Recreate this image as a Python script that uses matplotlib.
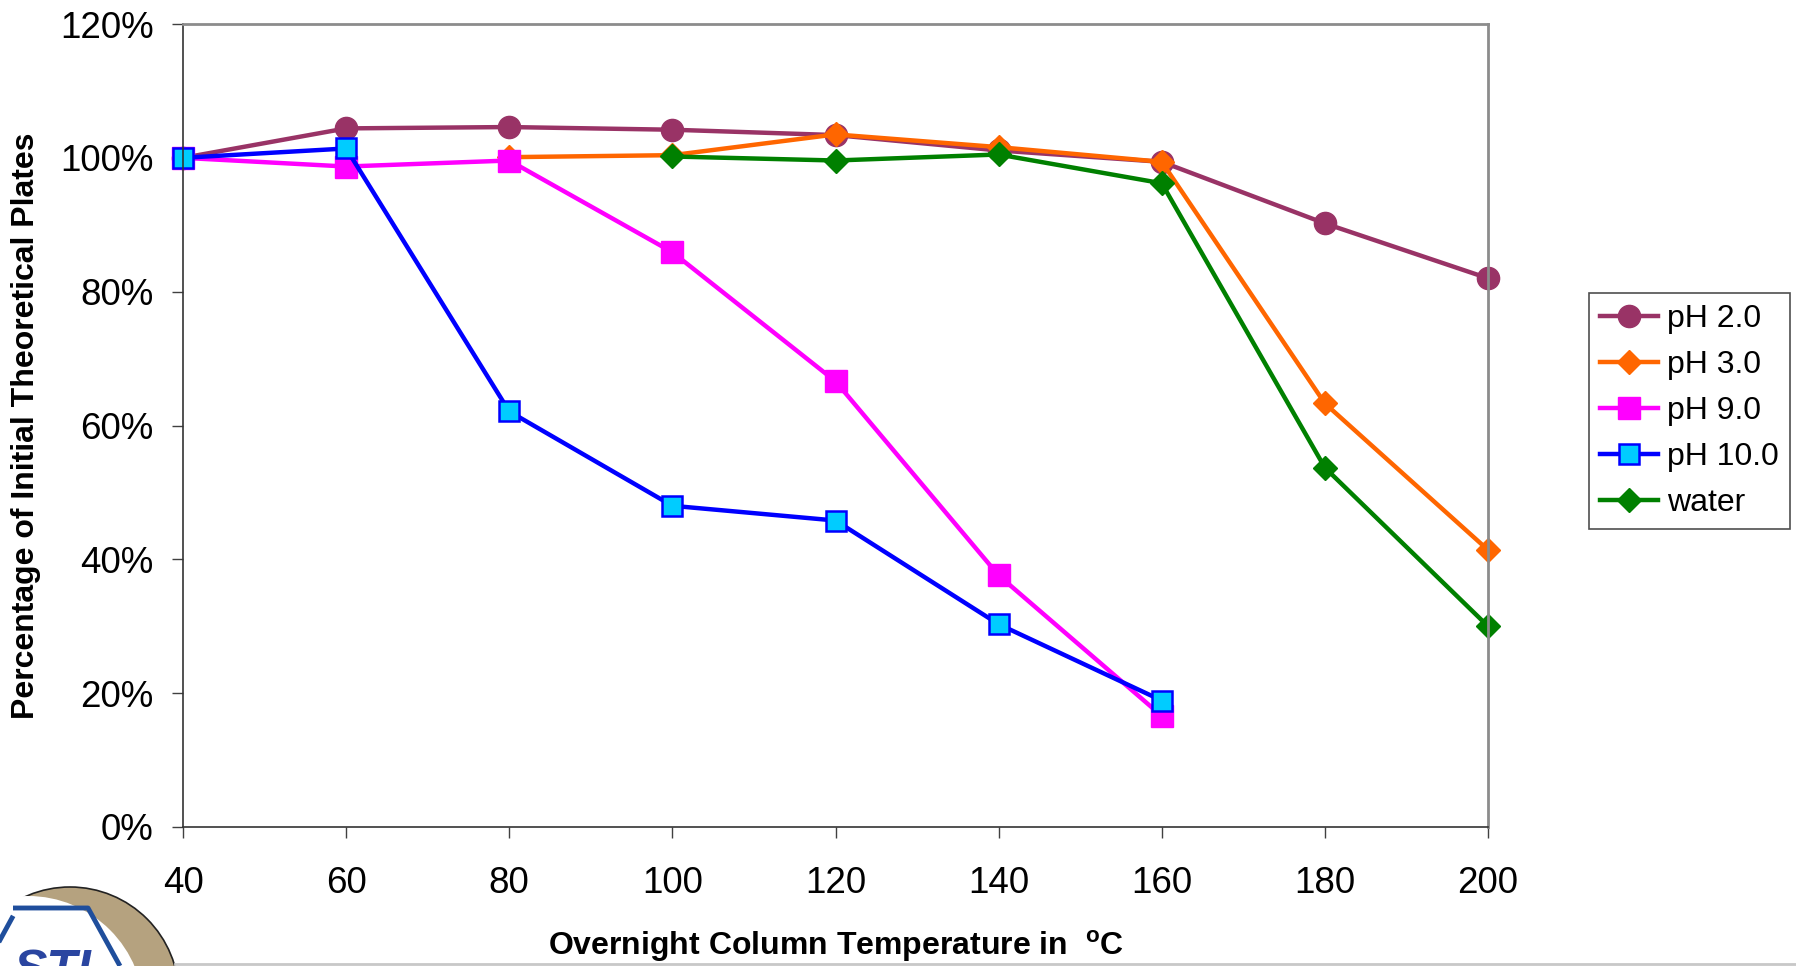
import matplotlib
matplotlib.use("Agg")
import matplotlib.pyplot as plt
from matplotlib.patches import Circle
from matplotlib.ticker import PercentFormatter

plt.rcParams['font.family'] = ['Liberation Sans', 'DejaVu Sans']
plt.rcParams['mathtext.fontset'] = 'custom'
plt.rcParams['mathtext.rm'] = 'Liberation Sans:bold'
plt.rcParams['mathtext.bf'] = 'Liberation Sans:bold'

# temperatures (deg C) and percentage of initial plates per series
temps = [40, 60, 80, 100, 120, 140, 160, 180, 200]
ph2 = [100.0, 104.4, 104.6, 104.2, 103.4, 101.1, 99.4, 90.2, 82.0]
ph3_t = [80, 100, 120, 140, 160, 180, 200]
ph3 = [100.1, 100.4, 103.5, 101.6, 99.4, 63.3, 41.4]
ph9_t = [40, 60, 80, 100, 120, 140, 160]
ph9 = [100.0, 98.7, 99.6, 85.9, 66.6, 37.6, 16.6]
ph10_t = [40, 60, 80, 100, 120, 140, 160]
ph10 = [100.0, 101.4, 62.1, 48.0, 45.8, 30.3, 18.9]
water_t = [100, 120, 140, 160, 180, 200]
water = [100.2, 99.6, 100.5, 96.2, 53.7, 30.0]

labels = ['pH 2.0', 'pH 3.0', 'pH 9.0', 'pH 10.0', 'water']

W, H = 1796, 966
fig = plt.figure(figsize=(W / 100, H / 100), dpi=100)

# overlay axes in pixel units for the logo and bottom rule
deco = fig.add_axes([0, 0, 1, 1])
deco.set_xlim(0, W)
deco.set_ylim(H, 0)
deco.axis('off')
deco.add_patch(Circle((70, 996), 109, facecolor='#b5a27f', edgecolor='#222222', lw=1.2))
deco.add_patch(Circle((28, 1012), 116, facecolor='white', edgecolor='none'))
deco.plot([13, 88, 120], [908, 908, 966], color='#1f4e9c', lw=3.5, solid_capstyle='butt')
deco.plot([12, 0], [918, 940], color='#1f4e9c', lw=3.5)
deco.text(52, 985, 'STI', color='#2a45a0', fontsize=36, fontweight='bold',
          fontstyle='italic', ha='center', va='baseline')
deco.plot([175, W], [964, 964], color='#c8c8c8', lw=2)

ax = fig.add_axes([183 / W, 1 - 827 / H, (1488 - 183) / W, (827 - 24) / H])
ax.set_zorder(2)

lw = 3.2
ax.plot(temps, ph2, color='#993366', lw=lw, marker='o', ms=16, label=labels[0])
ax.plot(ph3_t, ph3, color='#ff6600', lw=lw, marker='D', ms=12, label=labels[1])
ax.plot(ph9_t, ph9, color='#ff00ff', lw=lw, marker='s', ms=16, label=labels[2])
ax.plot(ph10_t, ph10, color='#0000ff', lw=lw, marker='s', ms=15, mfc='#00ccff',
        mec='#0000ff', mew=1.8, label=labels[3])
ax.plot(water_t, water, color='#008000', lw=lw, marker='D', ms=12, label=labels[4])

ax.set_xlim(40, 200)
ax.set_ylim(0, 120)
ax.set_xticks(temps)
ax.set_yticks(range(0, 121, 20))
ax.yaxis.set_major_formatter(PercentFormatter(decimals=0))
ax.tick_params(axis='both', labelsize=26.5, direction='out', length=8, width=1,
               color='#404040')
ax.tick_params(axis='x', pad=20)
ax.tick_params(axis='y', pad=13)
for s in ['left', 'bottom']:
    ax.spines[s].set_color('#333333')
    ax.spines[s].set_linewidth(1.2)
for s in ['top', 'right']:
    ax.spines[s].set_color('#8c8c8c')
    ax.spines[s].set_linewidth(2)
for a in ax.lines:
    a.set_clip_on(False)

fig.text(26 / W, 1 - 426 / H, 'Percentage of Initial Theoretical Plates',
         rotation=90, ha='center', va='center', fontsize=23, fontweight='bold',
         family=['Liberation Sans Narrow', 'Liberation Sans'])
fig.text(836 / W, 1 - 946 / H, 'Overnight Column Temperature in  $^{\\mathrm{o}}$C',
         ha='center', va='center', fontsize=23, fontweight='bold')

leg = fig.legend(loc='upper left', bbox_to_anchor=(1589 / W, 1 - 293 / H),
                 fontsize=23, frameon=True, fancybox=False, handlelength=1.8,
                 handletextpad=0.3, labelspacing=0.5, borderpad=0.35,
                 borderaxespad=0)
leg.get_frame().set_edgecolor('#222222')
leg.get_frame().set_linewidth(1.2)

fig.savefig('out.png', dpi=100)
